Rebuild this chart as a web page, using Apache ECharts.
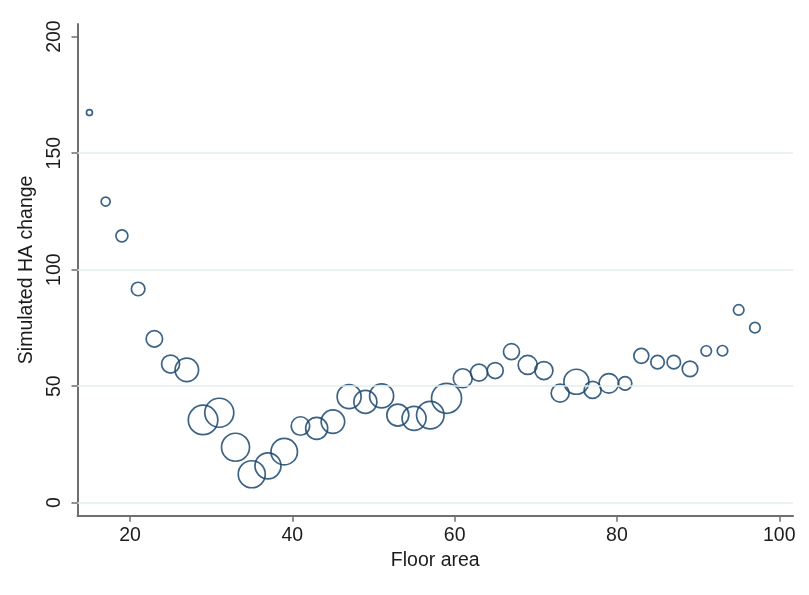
<!DOCTYPE html>
<html>
<head>
<meta charset="utf-8">
<title>Simulated HA change by floor area</title>
<script src="https://cdn.jsdelivr.net/npm/echarts@6/dist/echarts.min.js"></script>
<style>
  html, body { margin: 0; padding: 0; background: #ffffff; }
  #chart { width: 809px; height: 595px; }
</style>
</head>
<body>
<div id="chart"></div>
<script>
// Floor area bins (x), simulated HA change (y) and number of observations per bin (bubble weight)
const floorArea = [15, 17, 19, 21, 23, 25, 27, 29, 31, 33, 35, 37, 39, 41, 43, 45, 47, 49, 51, 53, 55,
                   57, 59, 61, 63, 65, 67, 69, 71, 73, 75, 77, 79, 81, 83, 85, 87, 89, 91, 93, 95, 97];
const haChange = [167.4, 129.2, 114.5, 91.7, 70.3, 59.5, 57.0, 35.5, 38.6, 23.8, 12.2, 15.8, 21.9, 32.9,
                  31.9, 34.8, 45.5, 43.3, 45.8, 37.6, 36.2, 37.6, 44.8, 53.4, 55.8, 56.7, 64.8, 59.1,
                  56.7, 47.0, 51.9, 48.4, 51.2, 51.2, 63.0, 60.3, 60.3, 57.4, 65.1, 65.2, 82.7, 75.1];
const obsCount = [36, 81, 144, 182, 272, 324, 552, 870, 841, 784, 729, 676, 702, 342, 484, 552, 576,
                  529, 576, 484, 576, 756, 900, 361, 289, 256, 256, 361, 324, 324, 625, 289, 380, 182,
                  225, 182, 182, 240, 110, 110, 110, 110];

// Tick labels
const xTicks = [20, 40, 60, 80, 100];
const yTicks = [0, 50, 100, 150, 200];
const yGrid = [0, 50, 100, 150];

const points = floorArea.map((x, i) => [x, haChange[i], obsCount[i]]);

const FONT = '"Liberation Sans", Arial, sans-serif';
const TEXT_SIZE = 19.5;
const textColor = '#1c1c1c';
const axisGray = '#6e6e6e';
const markerBlue = '#1a476f';

const chart = echarts.init(document.getElementById('chart'), null, { renderer: 'canvas' });

chart.setOption({
  backgroundColor: '#ffffff',
  animation: false,
  grid: { left: 77.5, right: 16, top: 24, bottom: 79.3, containLabel: false },
  xAxis: {
    type: 'value',
    min: 13.53,
    max: 101.69,
    name: 'Floor area',
    nameLocation: 'middle',
    nameGap: 32,
    nameTextStyle: { fontFamily: FONT, fontSize: TEXT_SIZE, color: textColor },
    axisLine: { show: true, onZero: false, lineStyle: { color: axisGray, width: 2 } },
    axisTick: { show: true, customValues: xTicks, length: 6, lineStyle: { color: axisGray, width: 1.5 } },
    axisLabel: { customValues: xTicks, margin: 10, fontFamily: FONT, fontSize: TEXT_SIZE, color: textColor },
    splitLine: { show: false }
  },
  yAxis: {
    type: 'value',
    min: -5.58,
    max: 205.4,
    name: 'Simulated HA change',
    nameLocation: 'middle',
    nameGap: 33,
    nameTextStyle: { fontFamily: FONT, fontSize: TEXT_SIZE, color: textColor },
    axisLine: { show: true, onZero: false, lineStyle: { color: axisGray, width: 2 } },
    axisTick: { show: true, customValues: yTicks, length: 6, lineStyle: { color: axisGray, width: 1.5 } },
    axisLabel: { customValues: yTicks, rotate: 90, margin: 13, fontFamily: FONT, fontSize: TEXT_SIZE, color: textColor },
    splitLine: { show: false }
  },
  series: [
    {
      // light horizontal reference lines behind the bubbles
      type: 'scatter',
      data: [],
      silent: true,
      z: 1,
      markLine: {
        silent: true,
        symbol: 'none',
        label: { show: false },
        lineStyle: { color: '#e3eced', width: 1.5, type: 'solid' },
        data: yGrid.map(v => ({ yAxis: v }))
      }
    },
    {
      type: 'scatter',
      z: 3,
      data: points,
      symbol: 'circle',
      symbolSize: d => Math.sqrt(d[2]),
      itemStyle: { color: 'rgba(0,0,0,0)', borderColor: markerBlue, borderWidth: 1.7, opacity: 0.85 }
    }
  ]
});
</script>
</body>
</html>
